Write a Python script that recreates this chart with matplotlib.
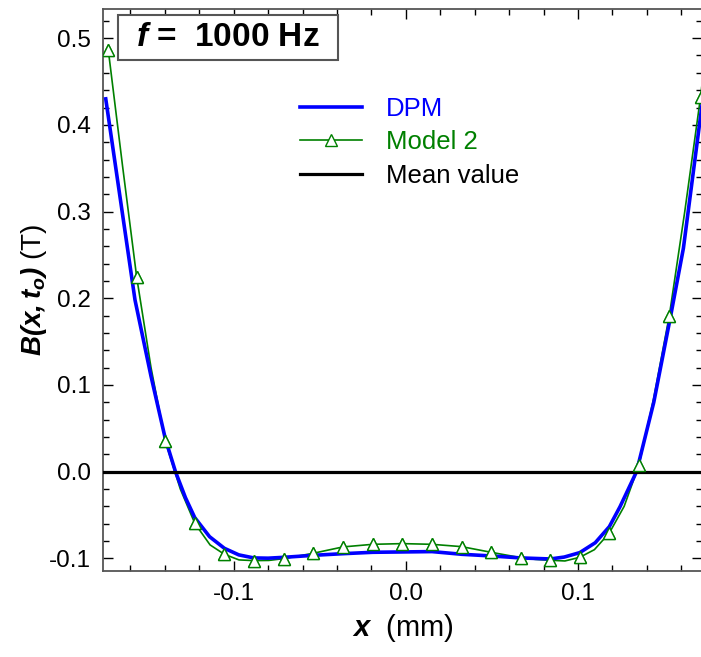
import numpy as np
import matplotlib
matplotlib.use("Agg")
import matplotlib.pyplot as plt
from matplotlib.patches import Rectangle

plt.rcParams['font.family'] = ['Liberation Sans', 'DejaVu Sans']
plt.rcParams['mathtext.fontset'] = 'custom'
plt.rcParams['mathtext.rm'] = 'Liberation Sans'
plt.rcParams['mathtext.it'] = 'Liberation Sans:italic'
plt.rcParams['mathtext.bf'] = 'Liberation Sans:bold'
plt.rcParams['mathtext.bfit'] = 'Liberation Sans:italic:bold'
plt.rcParams['axes.unicode_minus'] = False

# ---- data ----
dpm_x = [-0.1743, -0.1658, -0.1573, -0.1480, -0.1397, -0.1338, -0.1280, -0.1226,
         -0.1140, -0.1054, -0.0970, -0.0883, -0.0800, -0.0709, -0.0537, -0.0365,
         -0.0192, -0.0020, 0.0152, 0.0325, 0.0495, 0.0667, 0.0839, 0.0920,
         0.1010, 0.1100, 0.1182, 0.1244, 0.1340, 0.1440, 0.1538, 0.1612,
         0.1714, 0.1745]
dpm_y = [0.430, 0.314, 0.198, 0.110, 0.038, 0.000, -0.030, -0.053,
         -0.075, -0.0884, -0.096, -0.0995, -0.0998, -0.0988, -0.0965, -0.0946,
         -0.0930, -0.0926, -0.0922, -0.0953, -0.0972, -0.0995, -0.1007, -0.0985,
         -0.0934, -0.082, -0.0634, -0.0404, 0.000, 0.080, 0.1796, 0.2576,
         0.4134, 0.460]

model2_x = [-0.1728, -0.1645, -0.1563, -0.1480, -0.1397, -0.1310, -0.1226, -0.1137,
            -0.1054, -0.0969, -0.0883, -0.0796, -0.0709, -0.0537, -0.0365, -0.0192,
            -0.0020, 0.0152, 0.0325, 0.0495, 0.0667, 0.0753, 0.0839, 0.0924,
            0.1010, 0.1095, 0.1182, 0.1268, 0.1354, 0.1440, 0.1530, 0.1620,
            0.1712, 0.1745]
model2_y = [0.486, 0.352, 0.224, 0.120, 0.035, -0.020, -0.0595, -0.0845,
            -0.0953, -0.1018, -0.1026, -0.1024, -0.1003, -0.0941, -0.0868, -0.0838,
            -0.0830, -0.0838, -0.0865, -0.0930, -0.0992, -0.1012, -0.1022, -0.1030,
            -0.0988, -0.0900, -0.0707, -0.040, 0.0077, 0.085, 0.1796, 0.300,
            0.4325, 0.490]
# indices of model2 points carrying a triangle marker
model2_marks = [0, 2, 4, 6, 8, 10, 12, 13, 14, 15, 16, 17, 18, 19, 20, 22,
                24, 26, 28, 30, 32]

mean_value = 0.0

x_ticks = [-0.1, 0.0, 0.1]
y_ticks = [-0.1, 0.0, 0.1, 0.2, 0.3, 0.4, 0.5]

BLUE = '#0000ff'
GREEN = '#008000'

fig = plt.figure(figsize=(7.01, 6.57), dpi=100)
ax = fig.add_axes([0.1474, 0.1314, 0.854, 0.855])

ax.plot(model2_x, model2_y, color=GREEN, lw=1.2, marker='^', markersize=8.5,
        markerfacecolor='white', markeredgecolor=GREEN, markeredgewidth=1.0,
        markevery=model2_marks, label='Model 2', zorder=2)
ax.plot(dpm_x, dpm_y, color=BLUE, lw=2.6, label='DPM', zorder=3)
ax.axhline(mean_value, color='black', lw=2.3, label='Mean value', zorder=3.5)
# markers again on top of the blue curve
mx = [model2_x[i] for i in model2_marks]
my = [model2_y[i] for i in model2_marks]
ax.plot(mx, my, ls='none', marker='^', markersize=8.5, markerfacecolor='white',
        markeredgecolor=GREEN, markeredgewidth=1.0, zorder=4)

ax.set_xlim(-0.1757, 0.172)
ax.set_ylim(-0.1142, 0.5337)
ax.set_xticks(x_ticks)
ax.set_yticks(y_ticks)
ax.set_xticklabels([f"{v:.1f}" for v in x_ticks])
ax.set_yticklabels([f"{v:.1f}" for v in y_ticks])
ax.set_xticks(np.arange(-0.16, 0.17, 0.02), minor=True)
ax.set_yticks(np.arange(-0.10, 0.53, 0.02), minor=True)
ax.tick_params(which='both', direction='in', top=True, right=True, colors='black')
ax.tick_params(which='major', length=7, width=1.0, labelsize=17.5, pad=9)
ax.tick_params(which='minor', length=4, width=1.0)
for s in ax.spines.values():
    s.set_color('#555555')
    s.set_linewidth(1.3)

ax.set_xlabel(r'$\mathbfit{x}$  (mm)', fontsize=21, labelpad=5)
ax.set_ylabel(r'$\mathbfit{B(x,t_o)}$ (T)', fontsize=20, labelpad=0)

# frequency box
ax.add_patch(Rectangle((0.0246, 0.9092), 0.3675, 0.0801, transform=ax.transAxes,
                       facecolor='white', edgecolor='#555555', lw=1.5, zorder=5))
ax.text(0.2083, 0.949, r'$\mathbfit{f}$ =  1000 Hz', transform=ax.transAxes,
        ha='center', va='center', fontsize=24, fontweight='bold', zorder=6)

handles, labels = ax.get_legend_handles_labels()
order = [labels.index('DPM'), labels.index('Model 2'), labels.index('Mean value')]
ax.legend([handles[i] for i in order], [labels[i] for i in order],
          loc='upper left', bbox_to_anchor=(0.29, 0.885), frameon=False,
          fontsize=18.5, handlelength=2.4, handletextpad=0.95,
          labelspacing=0.38, labelcolor='linecolor')

fig.savefig('out.png', dpi=100)
